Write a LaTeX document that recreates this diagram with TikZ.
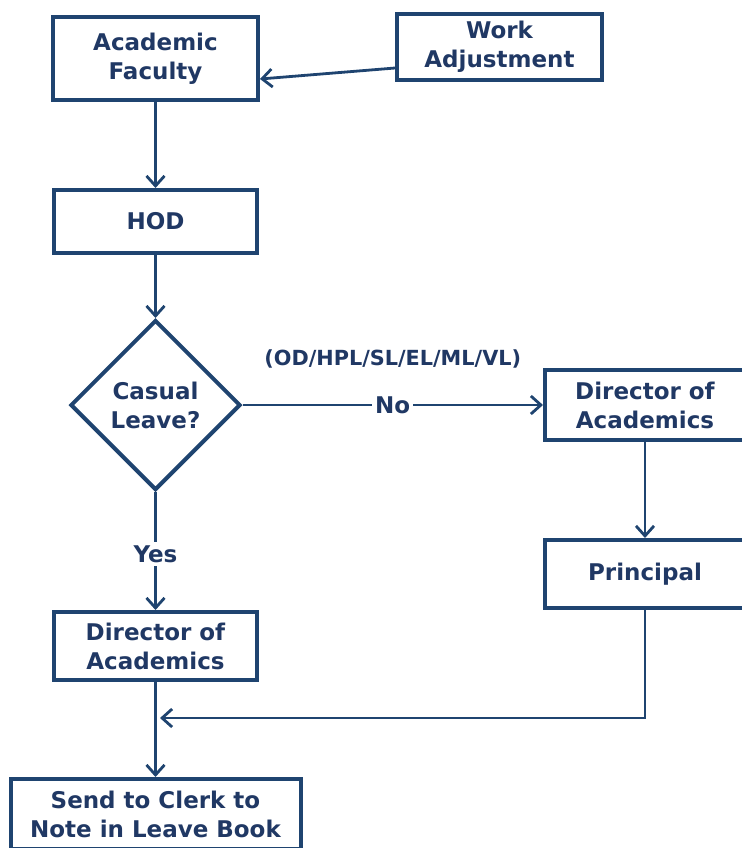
\documentclass[tikz,border=0pt]{standalone}
\usepackage{fontspec}
\setmainfont{DejaVu Sans}
\usetikzlibrary{positioning,shapes.geometric,arrows.meta}
\definecolor{navy}{HTML}{1F4470}
\definecolor{navytext}{HTML}{203864}

\begin{document}
\begin{tikzpicture}[x=0.5pt,y=-0.5pt,
            box/.style={rectangle,draw=navy,line width=2pt,align=center,inner sep=0pt,text=navytext,
                font=\fontsize{11.5}{14.5}\selectfont\bfseries},
            query/.style={diamond,aspect=1,draw=navy,line width=2pt,align=center,inner sep=0pt,
                minimum size=85pt,text=navytext,font=\fontsize{11.5}{14.5}\selectfont\bfseries},
            flow/.style={draw=navy,line width=1.4pt,-{Straight Barb[length=5pt,width=9pt,line width=1.4pt]}},
            tag/.style={fill=white,text=navytext,inner sep=1.5pt,font=\fontsize{11.5}{14.5}\selectfont\bfseries},
            leavetypes/.style={text=navytext,font=\fontsize{10.4}{12}\selectfont\bfseries}]

            \useasboundingbox (0,0) rectangle (742,848);

            % top row
            \node[box,minimum width=102.5pt,minimum height=41.5pt] (faculty) at (155.5,58.5) {Academic\\Faculty};
            \node[box,minimum width=102.5pt,minimum height=33pt] (adjust) at (499.5,47) {Work\\Adjustment};
            \node[box,minimum width=101.5pt,minimum height=31.5pt] (hod) at (155.5,221.5) {HOD};

            % decision
            \node[query] (casual) at (155.5,405) {Casual\\Leave?};

            % right branch
            \node[box,minimum width=100pt,minimum height=35pt] (dirright) at (645,405) {Director of\\Academics};
            \node[box,minimum width=100pt,minimum height=34pt] (principal) at (645,574) {Principal};

            % left branch
            \node[box,minimum width=101.5pt,minimum height=34pt] (dirleft) at (155.5,646) {Director of\\Academics};
            \node[box,minimum width=145pt,minimum height=35pt] (clerk) at (155.5,814) {Send to Clerk to\\Note in Leave Book};

            \coordinate (merge) at (160,718);

            \draw[flow] ([yshift=7pt]adjust.south west) -- ([yshift=11.5pt]faculty.south east);
            \draw[flow] (faculty) -- (hod);
            \draw[flow] (hod) -- (casual);
            \draw[flow] (casual) -- node[tag] (no) {No} (dirright);
            \node[leavetypes,above=15pt of no.center] (types) {(OD/HPL/SL/EL/ML/VL)};
            \draw[flow] (casual) -- node[tag,yshift=-1.5pt] (yes) {Yes} (dirleft);
            \draw[flow] (dirright.south -| principal) -- (principal);
            \draw[flow] (principal.south) |- (merge);
            \draw[flow] (dirleft) -- (clerk);
\end{tikzpicture}
\end{document}
